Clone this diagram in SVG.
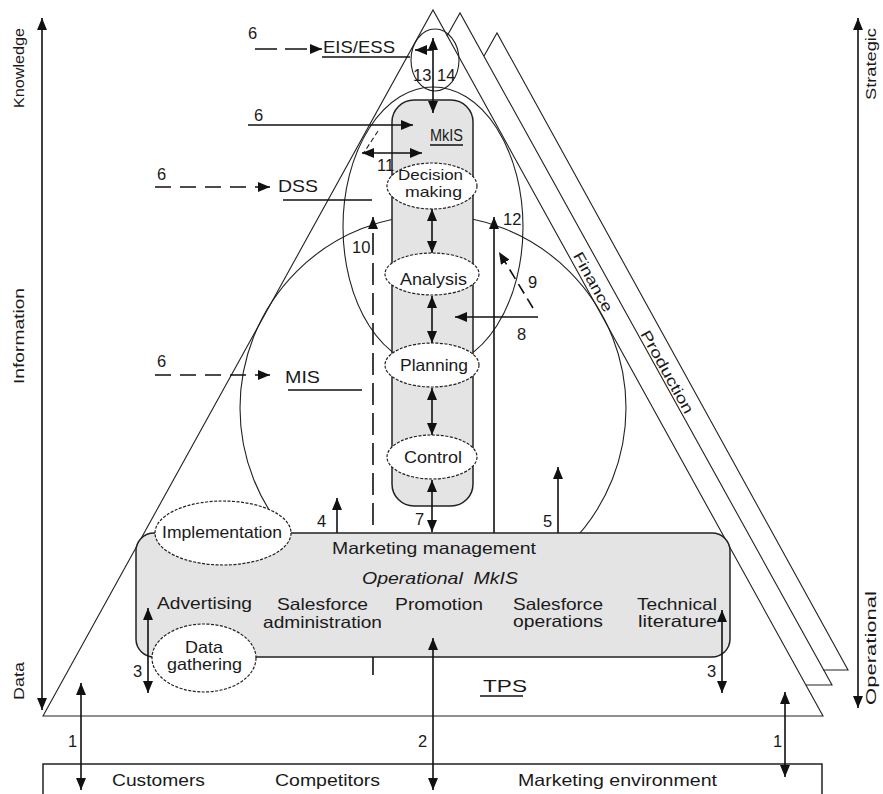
<svg xmlns="http://www.w3.org/2000/svg" width="883" height="794" viewBox="0 0 883 794">
<style>
.t{font-family:"Liberation Sans",Arial,sans-serif;font-size:16.5px;fill:#1a1a1a}
.s{font-size:15px}
.m{font-size:15px}
.thin{stroke:#222;stroke-width:1.1;fill:none}
.oval{stroke:#222;stroke-width:1.2;fill:#fff;stroke-dasharray:3 1.5}
.ar{stroke:#111;stroke-width:1.6;fill:none}
.two{marker-start:url(#ah);marker-end:url(#ah)}
.one{marker-end:url(#ah)}
.d1{stroke-dasharray:16 9}
.d2{stroke-dasharray:22 8}
.ul{stroke:#111;stroke-width:1.3}
.gray{fill:#e4e4e4;stroke:#222;stroke-width:1.5}
</style>
<defs>
<marker id="ah" viewBox="0 0 12 10" refX="12" refY="5" markerWidth="12" markerHeight="10" orient="auto-start-reverse" markerUnits="userSpaceOnUse">
<path d="M0,0 L12,5 L0,10 z" fill="#111"/>
</marker>
</defs>
<rect width="883" height="794" fill="#fff"/>

<g id="mis-circle"><circle class="thin" cx="433" cy="408" r="193"/></g>
<g id="eis-oval"><ellipse class="thin" cx="435" cy="60" rx="24" ry="31"/></g>
<g id="dss-ellipse"><ellipse class="thin" cx="433" cy="227" rx="90" ry="140" fill="#fff"/></g>

<g id="triangles">
<path class="thin" d="M43,716 L433,10 L823,716 Z"/>
<path class="thin" d="M447,36 L460,13 L832,685 L806,685"/>
<path class="thin" d="M484,56 L497,33 L848,670 L823,670"/>
<text class="t s" transform="translate(593,282) rotate(61)" text-anchor="middle" dy="5" textLength="66" lengthAdjust="spacingAndGlyphs">Finance</text>
<text class="t s" transform="translate(667,372) rotate(61)" text-anchor="middle" dy="5" textLength="93" lengthAdjust="spacingAndGlyphs">Production</text>
</g>

<g id="connectors-back">
<line class="ar d2 one" x1="373" y1="675" x2="373" y2="217"/>
<line class="ar one" x1="494" y1="538" x2="494" y2="217"/>
<line class="ar one" x1="337" y1="533" x2="337" y2="498"/>
<line class="ar one" x1="558" y1="540" x2="558" y2="467"/>
<line class="thin" x1="378" y1="131" x2="363" y2="154" stroke-dasharray="5 3"/>
</g>

<g id="mkis-pill"><rect class="gray" x="392" y="100" width="81" height="406" rx="22"/></g>

<g id="operational-mkis">
<rect class="gray" x="136" y="533" width="594" height="124" rx="18"/>
<text class="t" x="332" y="554" textLength="204" lengthAdjust="spacingAndGlyphs">Marketing management</text>
<text class="t" x="362" y="584" font-style="italic" textLength="156" lengthAdjust="spacingAndGlyphs" xml:space="preserve">Operational  MkIS</text>
<text class="t" x="157" y="609" textLength="95" lengthAdjust="spacingAndGlyphs">Advertising</text>
<text class="t" x="277" y="610" textLength="91" lengthAdjust="spacingAndGlyphs">Salesforce</text>
<text class="t" x="263" y="628" textLength="119" lengthAdjust="spacingAndGlyphs">administration</text>
<text class="t" x="395" y="610" textLength="88" lengthAdjust="spacingAndGlyphs">Promotion</text>
<text class="t" x="513" y="610" textLength="90" lengthAdjust="spacingAndGlyphs">Salesforce</text>
<text class="t" x="513" y="627" textLength="90" lengthAdjust="spacingAndGlyphs">operations</text>
<text class="t" x="637" y="610" textLength="80" lengthAdjust="spacingAndGlyphs">Technical</text>
<text class="t" x="638" y="627" textLength="79" lengthAdjust="spacingAndGlyphs">literature</text>
</g>

<g id="implementation"><ellipse class="oval" cx="223" cy="533" rx="68" ry="32"/><text class="t" x="162" y="538" textLength="120" lengthAdjust="spacingAndGlyphs">Implementation</text></g>
<g id="data-gathering"><ellipse class="oval" cx="204" cy="658" rx="52" ry="34"/><text class="t" x="185" y="653" textLength="38" lengthAdjust="spacingAndGlyphs">Data</text><text class="t" x="167" y="670" textLength="75" lengthAdjust="spacingAndGlyphs">gathering</text></g>

<g id="decision-making"><ellipse class="oval" cx="432" cy="186" rx="45" ry="23"/><text class="t m" x="398" y="180" textLength="65" lengthAdjust="spacingAndGlyphs">Decision</text><text class="t m" x="405" y="197" textLength="57" lengthAdjust="spacingAndGlyphs">making</text></g>
<g id="analysis"><ellipse class="oval" cx="432" cy="274" rx="47" ry="21"/><text class="t" x="400" y="285" textLength="67" lengthAdjust="spacingAndGlyphs">Analysis</text></g>
<g id="planning"><ellipse class="oval" cx="432" cy="365" rx="47" ry="22"/><text class="t" x="400" y="371" textLength="68" lengthAdjust="spacingAndGlyphs">Planning</text></g>
<g id="control"><ellipse class="oval" cx="432" cy="457" rx="45" ry="22"/><text class="t" x="404" y="463" textLength="58" lengthAdjust="spacingAndGlyphs">Control</text></g>

<g id="eis-ess"><text class="t" x="323" y="53" textLength="72" lengthAdjust="spacingAndGlyphs">EIS/ESS</text><line class="ul" x1="322" y1="57" x2="410" y2="57"/></g>
<g id="mkis"><text class="t" x="430" y="141" textLength="33" lengthAdjust="spacingAndGlyphs">MkIS</text><line class="ul" x1="430" y1="145" x2="463" y2="145"/></g>
<g id="dss"><text class="t" x="278" y="192" textLength="40" lengthAdjust="spacingAndGlyphs">DSS</text><line class="ul" x1="283" y1="200" x2="372" y2="200"/></g>
<g id="mis"><text class="t" x="285" y="383" textLength="35" lengthAdjust="spacingAndGlyphs">MIS</text><line class="ul" x1="288" y1="390" x2="362" y2="390"/></g>
<g id="tps"><text class="t" x="483" y="692" textLength="44" lengthAdjust="spacingAndGlyphs">TPS</text><line class="ul" x1="480" y1="696" x2="523" y2="696"/></g>

<g id="environment">
<path d="M43,800 L43,764 L822,764 L822,800" fill="none" stroke="#222" stroke-width="1.5"/>
<text class="t" x="112" y="786" textLength="93" lengthAdjust="spacingAndGlyphs">Customers</text>
<text class="t" x="275" y="786" textLength="105" lengthAdjust="spacingAndGlyphs">Competitors</text>
<text class="t" x="518" y="786" textLength="199" lengthAdjust="spacingAndGlyphs">Marketing environment</text>
</g>

<g id="axes">
<line class="ar two" x1="42" y1="18" x2="42" y2="710" stroke-width="2"/>
<line class="ar two" x1="858" y1="18" x2="858" y2="708" stroke-width="2"/>
<text class="t s" transform="translate(24,68) rotate(-90)" text-anchor="middle" textLength="80" lengthAdjust="spacingAndGlyphs">Knowledge</text>
<text class="t s" transform="translate(24,336) rotate(-90)" text-anchor="middle" textLength="96" lengthAdjust="spacingAndGlyphs">Information</text>
<text class="t s" transform="translate(24,681) rotate(-90)" text-anchor="middle" textLength="38" lengthAdjust="spacingAndGlyphs">Data</text>
<text class="t s" transform="translate(876,64) rotate(-90)" text-anchor="middle" textLength="72" lengthAdjust="spacingAndGlyphs">Strategic</text>
<text class="t s" transform="translate(876,648) rotate(-90)" text-anchor="middle" textLength="114" lengthAdjust="spacingAndGlyphs">Operational</text>
</g>

<g id="connectors">
<line class="ar d2 one" x1="255" y1="49" x2="322" y2="49"/>
<line class="ar two" x1="433" y1="113" x2="433" y2="38"/>
<line class="ar one" x1="433" y1="50" x2="415" y2="50"/>
<line class="ar one" x1="248" y1="125" x2="413" y2="125"/>
<line class="ar two" x1="362" y1="153" x2="422" y2="153"/>
<line class="ar d1 one" x1="155" y1="187" x2="270" y2="187"/>
<line class="ar two" x1="432" y1="209" x2="432" y2="253"/>
<line class="ar two" x1="432" y1="296" x2="432" y2="343"/>
<line class="ar two" x1="432" y1="388" x2="432" y2="435"/>
<line class="ar two" x1="432" y1="480" x2="432" y2="532"/>
<line class="ar one" x1="533" y1="308" x2="499" y2="252" stroke-dasharray="11 6"/>
<line class="ar one" x1="538" y1="317" x2="455" y2="317"/>
<line class="ar d1 one" x1="155" y1="375" x2="270" y2="375"/>
<line class="ar two" x1="148" y1="608" x2="148" y2="693"/>
<line class="ar two" x1="722" y1="610" x2="722" y2="693"/>
<line class="ar two" x1="433" y1="638" x2="433" y2="790"/>
<line class="ar two" x1="81" y1="683" x2="81" y2="790"/>
<line class="ar two" x1="785" y1="692" x2="785" y2="777"/>
</g>

<g id="labels">
<text class="t" x="248" y="39">6</text>
<text class="t" x="413" y="81">13</text>
<text class="t" x="437" y="81">14</text>
<text class="t" x="254" y="121">6</text>
<text class="t" x="377" y="171">11</text>
<text class="t" x="157" y="180">6</text>
<text class="t" x="503" y="225">12</text>
<text class="t" x="352" y="253">10</text>
<text class="t" x="528" y="288">9</text>
<text class="t" x="517" y="340">8</text>
<text class="t" x="157" y="367">6</text>
<text class="t" x="317" y="527">4</text>
<text class="t" x="415" y="525">7</text>
<text class="t" x="543" y="527">5</text>
<text class="t" x="133" y="677">3</text>
<text class="t" x="707" y="677">3</text>
<text class="t" x="68" y="747">1</text>
<text class="t" x="418" y="747">2</text>
<text class="t" x="773" y="747">1</text>
</g>
</svg>
